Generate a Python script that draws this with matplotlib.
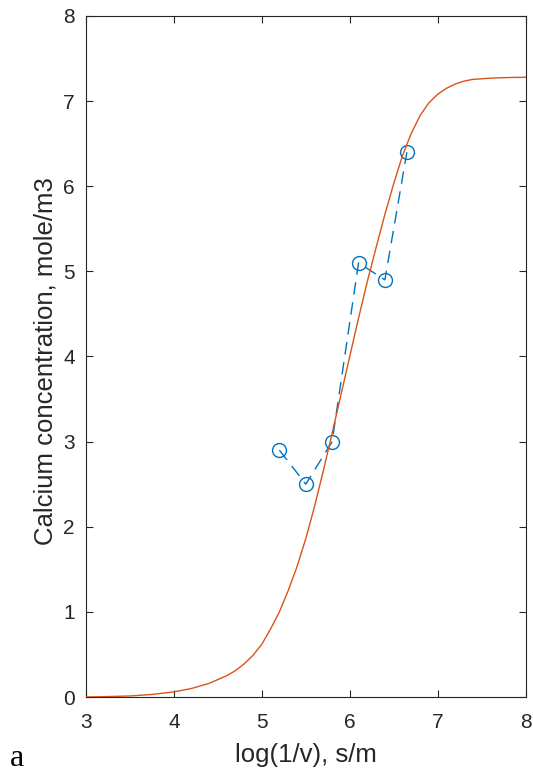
import numpy as np
import matplotlib.pyplot as plt

# measured calcium concentration vs log(1/v)
log_inv_v = [5.2, 5.5, 5.8, 6.1, 6.4, 6.65]
calcium = [2.9, 2.5, 3.0, 5.1, 4.9, 6.4]

# fitted model curve
fit_x = [3.0, 3.25, 3.5, 3.75, 4.0, 4.2, 4.4, 4.6, 4.7, 4.8, 4.9, 5.0, 5.1,
         5.2, 5.3, 5.4, 5.5, 5.6, 5.7, 5.8, 5.9, 6.0, 6.1, 6.2, 6.3, 6.4,
         6.5, 6.6, 6.7, 6.8, 6.9, 7.0, 7.1, 7.2, 7.3, 7.4, 7.6, 7.8, 8.0]
fit_y = [0.0, 0.005, 0.012, 0.03, 0.06, 0.10, 0.16, 0.25, 0.31, 0.39, 0.49,
         0.62, 0.80, 1.00, 1.25, 1.53, 1.86, 2.24, 2.66, 3.10, 3.55, 4.00,
         4.45, 4.88, 5.28, 5.67, 6.03, 6.36, 6.62, 6.83, 6.98, 7.08, 7.15,
         7.20, 7.235, 7.255, 7.27, 7.277, 7.28]

x_ticks = [3, 4, 5, 6, 7, 8]
y_ticks = [0, 1, 2, 3, 4, 5, 6, 7, 8]

blue = '#0072BD'
orange = '#D95319'
dark = '#262626'

plt.rcParams['font.family'] = ['Liberation Sans', 'DejaVu Sans']

fig = plt.figure(figsize=(5.33, 7.76), dpi=100)
ax = fig.add_axes([0.1614, 0.1018, 0.8246, 0.8776])

ax.plot(log_inv_v, calcium, linestyle='--', dashes=(9, 5.5), color=blue,
        marker='o', markersize=10, markerfacecolor='none',
        markeredgewidth=1.0, linewidth=1.0, zorder=2)
ax.plot(fit_x, fit_y, color=orange, linewidth=1.0, zorder=3)

ax.set_xlim(3, 8)
ax.set_ylim(0, 8)
ax.set_xticks(x_ticks)
ax.set_yticks(y_ticks)
ax.tick_params(direction='in', length=5, width=0.8, colors=dark,
               labelsize=15, top=True, right=True)
ax.tick_params(axis='x', pad=11.5)
ax.tick_params(axis='y', pad=8)
for sp in ax.spines.values():
    sp.set_color(dark)
    sp.set_linewidth(0.8)

ax.set_xlabel('log(1/v), s/m', fontsize=18.5, color=dark)
ax.xaxis.set_label_coords(0.5, -0.0675)
ax.set_ylabel('Calcium concentration, mole/m3', fontsize=18.5, color=dark)
ax.yaxis.set_label_coords(-0.064, 0.493)

# panel letter
fig.text(0.019, 0.004, 'a', family='Liberation Serif', fontsize=23,
         color='black', va='bottom')

fig.savefig('out.png', dpi=100)
